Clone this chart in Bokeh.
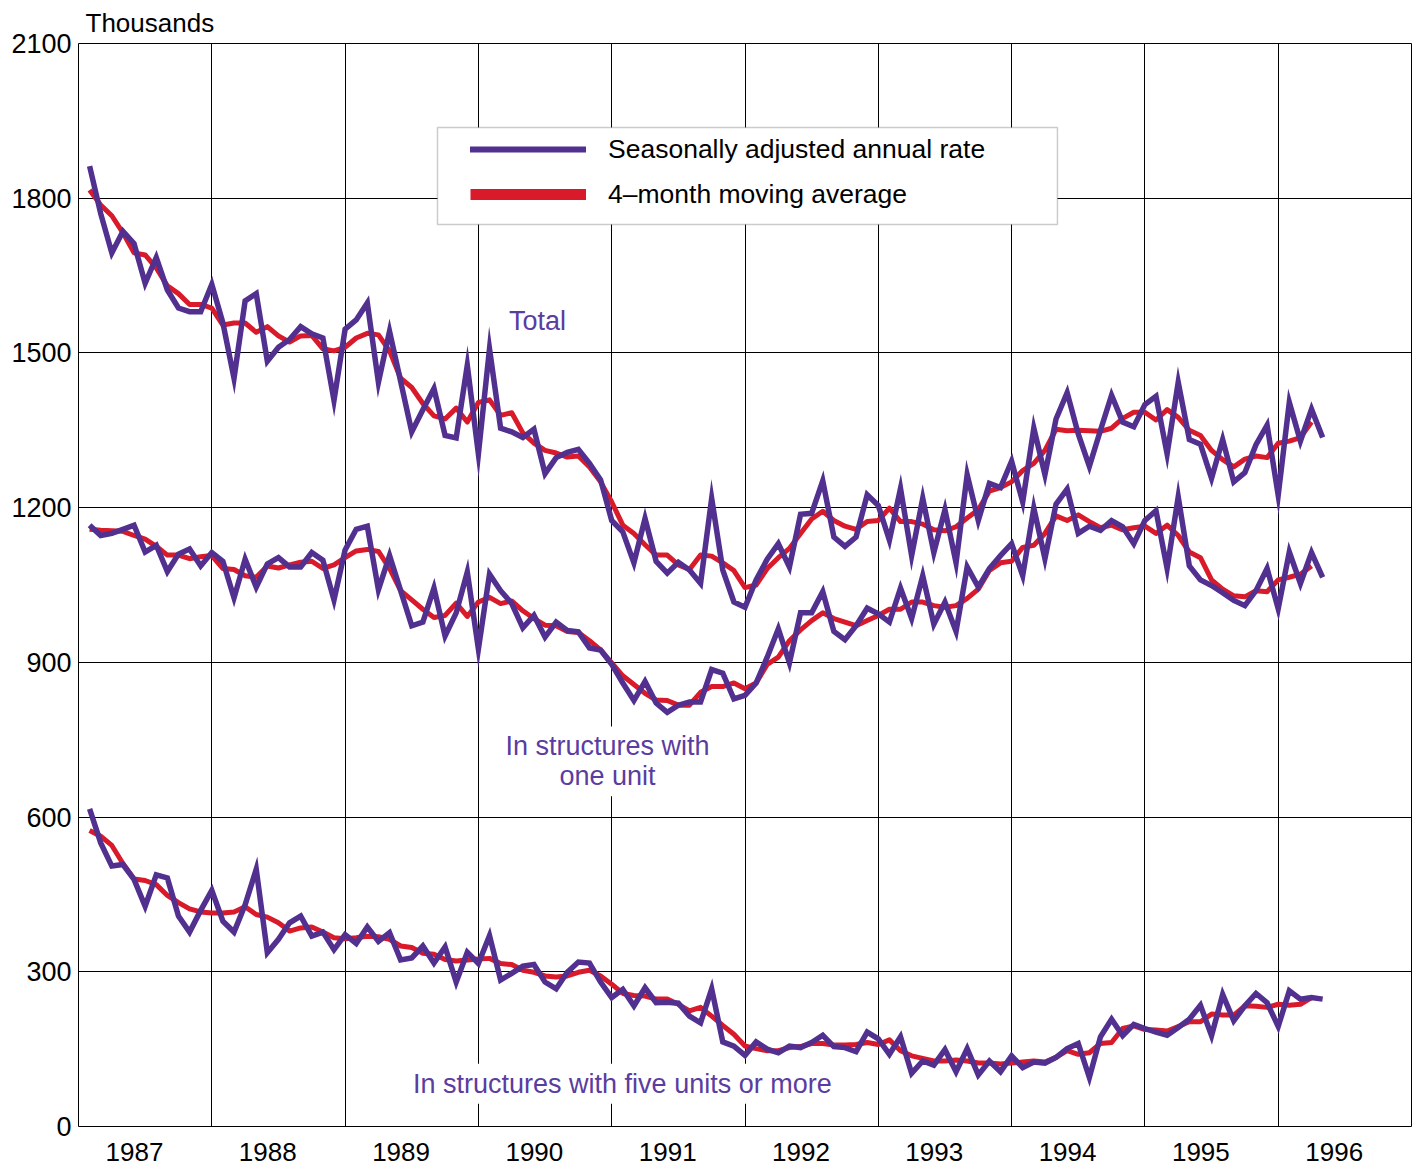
import numpy as np
from bokeh.plotting import figure
from bokeh.models import (FixedTicker, Range1d, Label, Legend, LegendItem,
                          BoxAnnotation, CustomJSTickFormatter, Title)
from bokeh.embed import file_html
from bokeh.resources import INLINE

# ---------------- data (thousands, seasonally adjusted annual rate) -------------
# monthly observations, first point = month index 1 after Jan 1987 start
total = [1862, 1770, 1694, 1736, 1712, 1635, 1685, 1622, 1587, 1580, 1580, 1633,
         1558, 1451, 1601, 1615, 1484, 1511, 1526, 1551, 1537, 1529, 1408, 1546,
         1564, 1597, 1443, 1542, 1445, 1347, 1390, 1431, 1340, 1335, 1476, 1304,
         1508, 1354, 1347, 1336, 1352, 1266, 1297, 1307, 1313, 1286, 1254, 1175,
         1153, 1093, 1179, 1096, 1073, 1094, 1079, 1053, 1218, 1079, 1017, 1007,
         1060, 1100, 1130, 1085, 1187, 1189, 1252, 1143, 1125, 1143, 1225, 1204,
         1137, 1237, 1107, 1218, 1113, 1196, 1093, 1264, 1175, 1247, 1239, 1290,
         1211, 1354, 1264, 1372, 1423, 1343, 1280, 1350, 1418, 1366, 1357, 1400,
         1416, 1304, 1443, 1332, 1323, 1257, 1332, 1250, 1268, 1322, 1360, 1224,
         1404, 1329, 1391, 1336]
total_ma = [1816, 1787, 1766, 1733, 1694, 1690, 1665, 1630, 1615, 1594, 1594, 1587,
            1554, 1558, 1558, 1540, 1551, 1533, 1521, 1533, 1534, 1508, 1504, 1511,
            1529, 1538, 1535, 1504, 1451, 1433, 1402, 1378, 1372, 1393, 1366, 1404,
            1409, 1379, 1384, 1345, 1325, 1311, 1306, 1298, 1300, 1279, 1250, 1211,
            1166, 1150, 1128, 1108, 1108, 1089, 1080, 1108, 1106, 1093, 1078, 1045,
            1050, 1082, 1103, 1121, 1150, 1178, 1193, 1175, 1164, 1158, 1173, 1175,
            1199, 1173, 1173, 1168, 1157, 1155, 1163, 1180, 1196, 1232, 1239, 1250,
            1272, 1286, 1311, 1352, 1349, 1350, 1349, 1348, 1354, 1373, 1385, 1385,
            1370, 1390, 1375, 1350, 1340, 1311, 1293, 1279, 1294, 1300, 1297, 1325,
            1329, 1336, 1366]
one_unit = [1166, 1146, 1150, 1158, 1166, 1114, 1127, 1076, 1110, 1120, 1087, 1113,
            1096, 1025, 1100, 1046, 1091, 1103, 1085, 1085, 1113, 1098, 1021, 1118,
            1158, 1164, 1041, 1107, 1039, 971, 978, 1044, 951, 996, 1075, 926,
            1071, 1039, 1014, 967, 991, 949, 978, 962, 959, 928, 924, 896,
            860, 826, 863, 821, 803, 817, 823, 823, 886, 879, 829, 836,
            860, 910, 965, 899, 996, 996, 1037, 960, 944, 971, 1005, 994,
            978, 1044, 985, 1068, 974, 1017, 960, 1085, 1046, 1082, 1107, 1130,
            1068, 1199, 1101, 1207, 1236, 1150, 1164, 1156, 1175, 1163, 1130, 1175,
            1194, 1082, 1221, 1087, 1060, 1049, 1035, 1020, 1010, 1039, 1082, 1004,
            1114, 1053, 1113, 1065]
one_unit_ma = [1158, 1156, 1155, 1154, 1146, 1139, 1125, 1108, 1108, 1101, 1105, 1107,
               1082, 1080, 1068, 1065, 1087, 1083, 1089, 1094, 1096, 1082, 1089, 1103,
               1116, 1119, 1115, 1082, 1039, 1021, 1003, 987, 991, 1015, 989, 1017,
               1026, 1014, 1019, 1000, 985, 972, 971, 960, 958, 942, 924, 899,
               874, 857, 840, 827, 826, 817, 817, 842, 853, 853, 860, 849,
               860, 896, 910, 942, 963, 981, 996, 985, 978, 971, 981, 991,
               1003, 1003, 1017, 1017, 1010, 1007, 1010, 1024, 1042, 1078, 1093, 1096,
               1123, 1127, 1150, 1184, 1175, 1186, 1173, 1161, 1166, 1157, 1161, 1164,
               1150, 1166, 1146, 1114, 1103, 1060, 1042, 1029, 1027, 1039, 1037, 1060,
               1065, 1071, 1087]
five_plus = [616, 550, 505, 508, 479, 427, 488, 482, 408, 377, 419, 458,
             398, 377, 430, 499, 337, 363, 395, 408, 369, 377, 343, 372,
             355, 387, 359, 376, 323, 327, 350, 317, 348, 280, 338, 316,
             370, 284, 297, 311, 314, 280, 267, 299, 319, 317, 280, 250,
             266, 234, 269, 240, 241, 239, 214, 201, 267, 164, 156, 138,
             164, 150, 143, 156, 153, 163, 177, 155, 153, 145, 183, 170,
             140, 174, 103, 127, 119, 149, 106, 151, 100, 127, 106, 137,
             114, 125, 123, 134, 151, 161, 95, 174, 208, 176, 198, 190,
             183, 177, 192, 208, 235, 176, 256, 205, 234, 258, 240, 194,
             263, 247, 250, 247]
five_plus_ma = [574, 563, 545, 510, 480, 477, 469, 448, 434, 422, 416, 414,
                414, 416, 426, 411, 406, 395, 379, 385, 387, 377, 366, 364,
                366, 369, 368, 363, 350, 347, 336, 334, 324, 321, 323, 325,
                326, 316, 314, 303, 299, 292, 290, 292, 299, 303, 292, 276,
                258, 254, 253, 247, 247, 237, 224, 231, 214, 196, 179, 156,
                151, 147, 147, 153, 155, 161, 161, 158, 158, 159, 163, 159,
                168, 147, 137, 132, 127, 127, 129, 127, 123, 123, 121, 123,
                125, 127, 125, 134, 147, 140, 143, 161, 163, 190, 195, 188,
                187, 185, 194, 203, 203, 218, 216, 216, 234, 233, 231, 237,
                235, 237, 250]

years = list(range(1987, 1997))
y_ticks = [0, 300, 600, 900, 1200, 1500, 1800, 2100]

# ---------------- styling -----------------------------------------------------
PURPLE = "#51308f"
PURPLE_TXT = "#5b3c9f"
RED = "#d91a2a"
FONT = "Liberation Sans"

x_data = 1987 + np.arange(1, len(total) + 1) / 12.0
x_ma = 1987 + np.arange(1, len(total_ma) + 1) / 12.0

title = Title(text="Thousands", align="left", offset=7, standoff=11,
              text_font=FONT, text_font_size="26px", text_font_style="normal",
              text_color="black")

p = figure(width=1416, height=1166, x_range=Range1d(1987, 1997),
           y_range=Range1d(0, 2100), output_backend="svg",
           toolbar_location=None, title=title,
           min_border_left=78, min_border_right=5,
           min_border_top=43, min_border_bottom=40)

p.outline_line_color = "black"
p.outline_line_width = 1
p.background_fill_color = "white"
p.border_fill_color = "white"

# grid
p.xgrid.ticker = FixedTicker(ticks=years[1:])
p.ygrid.ticker = FixedTicker(ticks=y_ticks)
p.xgrid.grid_line_color = "black"
p.ygrid.grid_line_color = "black"
p.xgrid.grid_line_width = 1
p.ygrid.grid_line_width = 1

# axes
p.xaxis.ticker = FixedTicker(ticks=[y + 0.42 for y in years])
p.xaxis.formatter = CustomJSTickFormatter(code="return Math.floor(tick).toString();")
p.yaxis.ticker = FixedTicker(ticks=y_ticks)
for ax in (p.xaxis[0], p.yaxis[0]):
    ax.axis_line_color = None
    ax.major_tick_line_color = None
    ax.minor_tick_line_color = None
    ax.major_tick_out = 0
    ax.major_tick_in = 0
    ax.major_label_text_font = FONT
    ax.major_label_text_color = "black"
p.xaxis.major_label_text_font_size = "26px"
p.yaxis.major_label_text_font_size = "27px"
p.yaxis.major_label_standoff = 7
p.xaxis.major_label_standoff = 16

# series
for ma, raw in ((total_ma, total), (one_unit_ma, one_unit), (five_plus_ma, five_plus)):
    p.line(x_ma, ma, line_color=RED, line_width=5, line_join="round")
    p.line(x_data, raw, line_color=PURPLE, line_width=5.5, line_join="miter")

# legend frame
box = BoxAnnotation(left=1989.693, right=1994.344, top=1937.1, bottom=1749.0,
                    fill_color="white", fill_alpha=1.0,
                    line_color="#555555", line_width=1.5)
p.add_layout(box)

r_leg1 = p.line([np.nan], [np.nan], line_color=PURPLE, line_width=6, line_cap="round")
r_leg2 = p.line([np.nan], [np.nan], line_color=RED, line_width=11)
legend = Legend(items=[LegendItem(label="Seasonally adjusted annual rate", renderers=[r_leg1]),
                       LegendItem(label="4\u2013month moving average", renderers=[r_leg2])],
                location=(392, 912), padding=4, spacing=5,
                glyph_width=116, glyph_height=40, label_height=40,
                label_standoff=22, label_text_font=FONT,
                label_text_font_size="26.5px", label_text_color="black",
                border_line_color=None, background_fill_alpha=0.0, margin=0)
legend.level = "overlay"
p.add_layout(legend, "center")

# text labels
def add_label(x, y, text):
    p.add_layout(Label(x=x, y=y, text=text, text_align="center", text_baseline="middle",
                       text_color=PURPLE_TXT, text_font=FONT, text_font_size="27px",
                       background_fill_color="white", padding=5))

add_label(1990.443, 1561, "Total")
add_label(1990.968, 737, "In structures with")
add_label(1990.968, 679, "one unit")
add_label(1991.08, 83, "In structures with five units or more")

open("out.html", "w").write(file_html(p, INLINE))
